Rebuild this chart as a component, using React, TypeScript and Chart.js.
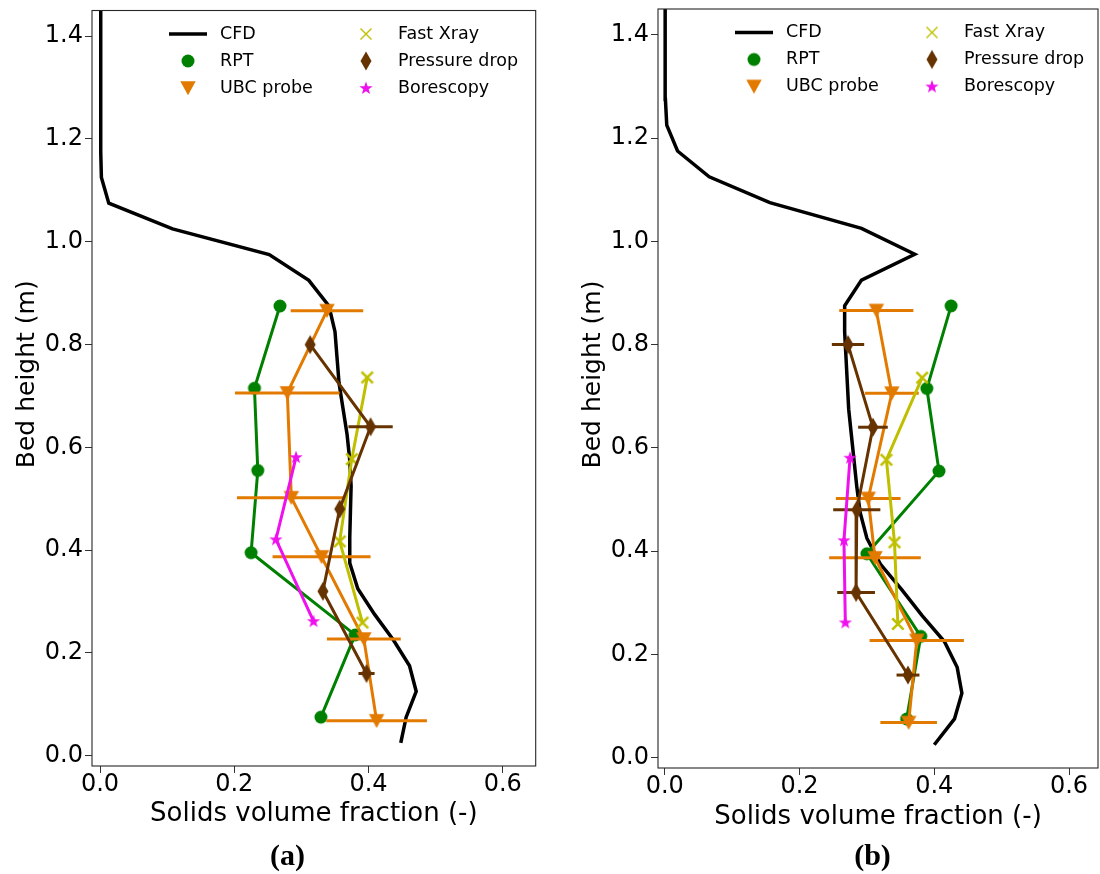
import React, { useEffect, useRef } from "react";
import { Chart, registerables } from "chart.js";

Chart.register(...registerables);

// ---------------- data ----------------
const SERIES_LABELS = ["CFD", "RPT", "UBC probe", "Fast Xray", "Pressure drop", "Borescopy"];
const X_TICKS = [0, 0.2, 0.4, 0.6];
const Y_TICKS = [0, 0.2, 0.4, 0.6, 0.8, 1.0, 1.2, 1.4];

const CFD_Y = [0.025, 0.075, 0.125, 0.175, 0.225, 0.275, 0.325, 0.375, 0.425, 0.475, 0.525, 0.575, 0.625, 0.675, 0.725, 0.775, 0.825, 0.875, 0.925, 0.975, 1.025, 1.075, 1.125, 1.175, 1.225, 1.275, 1.325, 1.375, 1.425, 1.475];
const CFD_X_A = [0.448, 0.456, 0.471, 0.461, 0.437, 0.409, 0.384, 0.372, 0.372, 0.373, 0.374, 0.372, 0.368, 0.362, 0.356, 0.353, 0.35, 0.341, 0.311, 0.252, 0.108, 0.013, 0.002, 0.001, 0.001, 0.001, 0.001, 0.001, 0.001, 0.001];
const CFD_X_B = [0.4, 0.43, 0.441, 0.434, 0.415, 0.382, 0.352, 0.32, 0.3, 0.29, 0.285, 0.281, 0.277, 0.273, 0.271, 0.269, 0.267, 0.267, 0.292, 0.371, 0.292, 0.156, 0.066, 0.019, 0.003, 0.001, 0.001, 0.0005, 0.0005, 0.0005];

const RPT_Y = [0.875, 0.715, 0.555, 0.395, 0.235, 0.075];
const RPT_X_A = [0.268, 0.23, 0.235, 0.225, 0.38, 0.329];
const RPT_X_B = [0.425, 0.389, 0.407, 0.3, 0.38, 0.359];

const UBC_Y = [0.866, 0.706, 0.502, 0.387, 0.227, 0.068];
const UBC_X_A = [0.338, 0.279, 0.285, 0.33, 0.393, 0.412];
const UBC_ERR_A = [0.054, 0.078, 0.081, 0.073, 0.055, 0.075];
const UBC_X_B = [0.314, 0.337, 0.302, 0.312, 0.374, 0.362];
const UBC_ERR_B = [0.055, 0.04, 0.048, 0.068, 0.07, 0.042];

const XRAY_Y = [0.736, 0.577, 0.417, 0.259];
const XRAY_X_A = [0.398, 0.375, 0.357, 0.391];
const XRAY_X_B = [0.382, 0.329, 0.341, 0.346];

const DP_Y = [0.8, 0.64, 0.48, 0.32, 0.16];
const DP_X_A = [0.313, 0.403, 0.357, 0.332, 0.397];
const DP_ERR_A = [0.004, 0.033, 0.004, 0.004, 0.012];
const DP_X_B = [0.272, 0.309, 0.285, 0.284, 0.361];
const DP_ERR_B = [0.024, 0.022, 0.035, 0.028, 0.017];

const BORE_Y = [0.581, 0.421, 0.262];
const BORE_X_A = [0.292, 0.262, 0.318];
const BORE_X_B = [0.275, 0.266, 0.268];

// ---------------- styles ----------------
const FONT = '"DejaVu Sans", "Noto Sans", sans-serif';
const COLORS = ["#000000", "#008000", "#e37a00", "#bfbf00", "#663300", "#ee11ee"];
const KINDS = ["line", "circle", "tri", "x", "diamond", "star"];

const PANELS = [
  {
    tag: "(a)", left: 0, width: 560, tagX: 287.5,
    xmin: -0.012, xmax: 0.649, pad: { top: 10.5, right: 24.3, left: 0, bottom: 0 },
    xAxisH: 108, xTitlePad: 44.4,
    cfd: CFD_X_A, rpt: RPT_X_A, ubc: UBC_X_A, ubcErr: UBC_ERR_A, xray: XRAY_X_A, dp: DP_X_A, dpErr: DP_ERR_A, bore: BORE_X_A,
  },
  {
    tag: "(b)", left: 566, width: 560, tagX: 872.5,
    xmin: -0.01, xmax: 0.643, pad: { top: 6, right: 28, left: 0, bottom: 0 },
    xAxisH: 106, xTitlePad: 41.4,
    cfd: CFD_X_B, rpt: RPT_X_B, ubc: UBC_X_B, ubcErr: UBC_ERR_B, xray: XRAY_X_B, dp: DP_X_B, dpErr: DP_ERR_B, bore: BORE_X_B,
  },
];

function makeMarker(kind: string, color: string, legend = false): HTMLCanvasElement {
  const c = document.createElement("canvas");
  let w = 16, h = 16;
  if (kind === "diamond") { w = 14; h = 22; }
  if (kind === "tri") { w = 18; h = 18; }
  c.width = w; c.height = h;
  const g = c.getContext("2d")!;
  g.fillStyle = color; g.strokeStyle = color;
  g.beginPath();
  if (kind === "circle") {
    g.arc(w / 2, h / 2, 6.5, 0, Math.PI * 2);
    g.fill();
  } else if (kind === "tri") {
    g.moveTo(1.3, 2.3); g.lineTo(16.7, 2.3); g.lineTo(9, 16.2); g.closePath(); g.fill();
  } else if (kind === "x") {
    g.lineWidth = legend ? 1.4 : 2.6;
    const a = legend ? 2.5 : 2.3, b = legend ? 13.5 : 13.7;
    g.moveTo(a, a); g.lineTo(b, b); g.moveTo(b, a); g.lineTo(a, b); g.stroke();
  } else if (kind === "diamond") {
    g.moveTo(7, 1.5); g.lineTo(12.5, 11); g.lineTo(7, 20.5); g.lineTo(1.5, 11); g.closePath(); g.fill();
  } else if (kind === "star") {
    const cx = 8, cy = 8.4, R = 7, r = 2.8;
    for (let i = 0; i < 10; i++) {
      const ang = -Math.PI / 2 + (i * Math.PI) / 5;
      const rr = i % 2 === 0 ? R : r;
      const px = cx + rr * Math.cos(ang), py = cy + rr * Math.sin(ang);
      if (i === 0) g.moveTo(px, py); else g.lineTo(px, py);
    }
    g.closePath(); g.fill();
  }
  return c;
}

const pts = (xs: number[], ys: number[]) => xs.map((x, i) => ({ x, y: ys[i] }));

const framePlugin = {
  id: "frame",
  afterDraw(chart: any) {
    const { ctx, chartArea: a } = chart;
    ctx.save();
    ctx.strokeStyle = "#262626";
    ctx.lineWidth = 1.1;
    ctx.strokeRect(a.left, a.top, a.right - a.left, a.bottom - a.top);
    ctx.restore();
  },
};

const errPlugin = {
  id: "errbars",
  beforeDatasetDraw(chart: any, args: any) {
    const ds = chart.data.datasets[args.index];
    const err = ds.xerr as number[] | undefined;
    if (!err) return;
    const { ctx } = chart;
    const xs = chart.scales.x, ys = chart.scales.y;
    ctx.save();
    ctx.strokeStyle = ds.borderColor;
    ctx.lineWidth = 3;
    ds.data.forEach((p: any, i: number) => {
      const e = err[i];
      if (!e) return;
      const y = ys.getPixelForValue(p.y);
      ctx.beginPath();
      ctx.moveTo(xs.getPixelForValue(p.x - e), y);
      ctx.lineTo(xs.getPixelForValue(p.x + e), y);
      ctx.stroke();
    });
    ctx.restore();
  },
};

const yTitlePlugin = {
  id: "ytitle",
  afterDraw(chart: any, _args: any, opts: any) {
    const { ctx, chartArea: a } = chart;
    ctx.save();
    ctx.translate(opts.x, (a.top + a.bottom) / 2 + opts.dy);
    ctx.rotate(-Math.PI / 2);
    ctx.font = `25px ${FONT}`;
    ctx.fillStyle = "#000";
    ctx.textAlign = "center";
    ctx.textBaseline = "middle";
    ctx.fillText(opts.text, 0, 0);
    ctx.restore();
  },
};

const legendPlugin = {
  id: "legend2col",
  afterDraw(chart: any, _args: any, opts: any) {
    const { ctx, chartArea: a } = chart;
    const markerDx = [96, 274];
    const textDx = [128, 306];
    const rowDy = [23.5, 50.5, 77.5];
    ctx.save();
    chart.data.datasets.forEach((ds: any, i: number) => {
      const col = Math.floor(i / 3), row = i % 3;
      const mx = a.left + markerDx[col];
      const my = a.top + rowDy[row];
      if (ds.legendKind === "line") {
        ctx.strokeStyle = ds.borderColor;
        ctx.lineWidth = 3.5;
        ctx.beginPath();
        ctx.moveTo(mx - 19, my);
        ctx.lineTo(mx + 19, my);
        ctx.stroke();
      } else {
        const img = opts.markers[i];
        ctx.drawImage(img, mx - img.width / 2, my - img.height / 2);
      }
      ctx.font = `17.5px ${FONT}`;
      ctx.fillStyle = "#000";
      ctx.textAlign = "left";
      ctx.textBaseline = "middle";
      ctx.fillText(ds.label, a.left + textDx[col], my);
    });
    ctx.restore();
  },
};

function Panel({ cfg }: { cfg: any }) {
  const ref = useRef<HTMLCanvasElement>(null);
  useEffect(() => {
    const dataMarkers = KINDS.map((k, i) => (k === "line" ? null : makeMarker(k, COLORS[i])));
    const legendMarkers = KINDS.map((k, i) => (k === "line" ? null : makeMarker(k, COLORS[i], true)));
    const seriesX = [cfg.cfd, cfg.rpt, cfg.ubc, cfg.xray, cfg.dp, cfg.bore];
    const seriesY = [CFD_Y, RPT_Y, UBC_Y, XRAY_Y, DP_Y, BORE_Y];
    const seriesErr = [null, null, cfg.ubcErr, null, cfg.dpErr, null];

    const datasets: any[] = SERIES_LABELS.map((label, i) => ({
      label,
      data: pts(seriesX[i], seriesY[i]),
      showLine: true,
      fill: false,
      borderColor: COLORS[i],
      backgroundColor: COLORS[i],
      borderWidth: i === 0 ? 3.5 : 3,
      pointRadius: i === 0 ? 0 : 6,
      pointHoverRadius: 6,
      pointStyle: i === 0 ? "circle" : dataMarkers[i],
      tension: 0,
      order: 10 - i,
      xerr: seriesErr[i] || undefined,
      legendKind: KINDS[i],
    }));

    const chart = new Chart(ref.current!, {
      type: "scatter",
      data: { datasets },
      plugins: [errPlugin, framePlugin, yTitlePlugin, legendPlugin],
      options: {
        animation: false,
        responsive: true,
        maintainAspectRatio: false,
        events: [],
        layout: { padding: cfg.pad },
        plugins: {
          legend: { display: false },
          tooltip: { enabled: false },
          ytitle: { text: "Bed height (m)", x: 27, dy: -14 },
          legend2col: { markers: legendMarkers },
        } as any,
        scales: {
          x: {
            type: "linear",
            min: cfg.xmin,
            max: cfg.xmax,
            afterBuildTicks: (s: any) => { s.ticks = X_TICKS.map((v) => ({ value: v })); },
            afterFit: (s: any) => { s.height = cfg.xAxisH; s.paddingLeft = 0; s.paddingRight = 0; },
            ticks: {
              callback: (v: any) => Number(v).toFixed(1),
              font: { family: FONT, size: 24, lineHeight: 1 },
              color: "#000",
              padding: 0,
              maxRotation: 0,
              autoSkip: false,
            },
            grid: { drawOnChartArea: false, drawTicks: true, tickLength: 7, tickColor: "#333", tickWidth: 1 },
            border: { display: false },
            title: {
              display: true,
              text: "Solids volume fraction (-)",
              font: { family: FONT, size: 26 },
              color: "#000",
              padding: { top: 0, bottom: cfg.xTitlePad },
            },
          },
          y: {
            type: "linear",
            min: -0.02,
            max: 1.45,
            afterBuildTicks: (s: any) => { s.ticks = Y_TICKS.map((v) => ({ value: v })); },
            afterFit: (s: any) => { s.width = 92; s.paddingTop = 0; s.paddingBottom = 0; },
            ticks: {
              callback: (v: any) => Number(v).toFixed(1),
              font: { family: FONT, size: 24, lineHeight: 1 },
              color: "#000",
              padding: 2,
              autoSkip: false,
            },
            grid: { drawOnChartArea: false, drawTicks: true, tickLength: 7, tickColor: "#333", tickWidth: 1 },
            border: { display: false },
          },
        },
      } as any,
    });
    return () => chart.destroy();
  }, []);
  return (
    <div style={{ position: "absolute", left: cfg.left, top: 0, width: cfg.width, height: 874 }}>
      <canvas ref={ref} />
    </div>
  );
}

export default function App() {
  return (
    <div style={{ position: "fixed", left: 0, top: 0, width: 1100, height: 874, overflow: "hidden", background: "#fff" }}>
      {PANELS.map((p) => (
        <Panel key={p.tag} cfg={p} />
      ))}
      {PANELS.map((p) => (
        <div
          key={"t" + p.tag}
          style={{
            position: "absolute",
            left: p.tagX - 40,
            top: 839.6,
            width: 80,
            textAlign: "center",
            font: 'bold 30px "Liberation Serif", "DejaVu Serif", serif',
            lineHeight: "30px",
            color: "#000",
          }}
        >
          {p.tag}
        </div>
      ))}
    </div>
  );
}
